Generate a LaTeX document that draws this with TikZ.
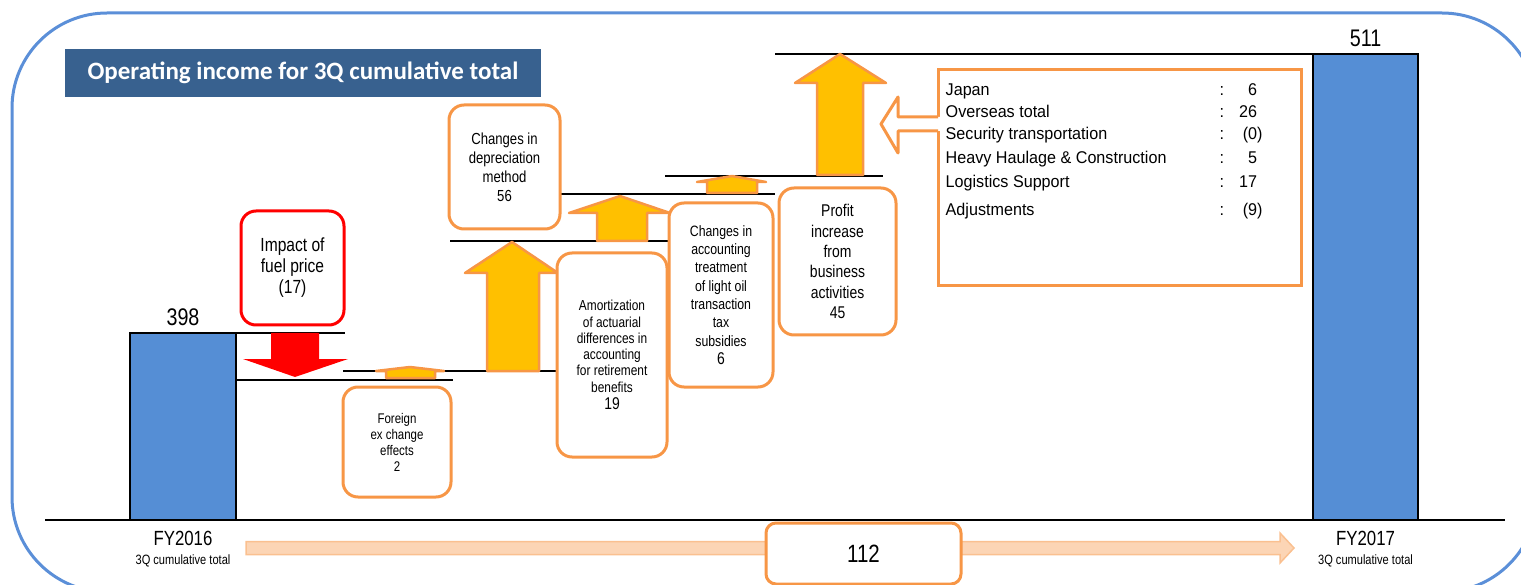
\documentclass[tikz,border=0pt]{standalone}
\usepackage{fontspec}
\setmainfont{Liberation Sans}[FakeStretch=0.82]
\newfontfamily\listfont{Liberation Sans}[FakeStretch=0.95]
\newfontfamily\titlefont{Carlito}
\usepackage{array}
\usetikzlibrary{calc, positioning}

\definecolor{barblue}{HTML}{558ED5}
\definecolor{titleblue}{HTML}{38618F}
\definecolor{frameblue}{HTML}{5B8FD8}
\definecolor{boxorange}{HTML}{F79646}
\definecolor{arrowgold}{HTML}{FFC000}
\definecolor{flowfill}{HTML}{FCD5B5}
\definecolor{flowline}{HTML}{FAC090}

\newcommand\fsz[2]{\fontsize{#1}{#2}\selectfont}

\begin{document}
\begin{tikzpicture}[x=1pt, y=-1pt,
every node/.style = {inner sep=0pt, align=center},
box/.style = {draw=boxorange, line width=3pt, rounded corners=15pt,
              fill=white},
redbox/.style = {box, draw=red},
bar/.style = {draw=black, line width=2.2pt, fill=barblue},
level/.style = {draw=black, line width=2.2pt},
uparrow/.style = {draw=boxorange, line width=2.5pt, fill=arrowgold,
                  line join=round},
downarrow/.style = {fill=red},
flow/.style = {fill=flowfill, draw=flowline, line width=1.5pt},
                    ]
%---
\useasboundingbox (0,0) rectangle (1521,585);
\begin{scope}
\clip (0,0) rectangle (1521,585);
\draw[frameblue, line width=3pt, rounded corners=95pt] (12,13) rectangle (1537,592);
\end{scope}

\node (title) [fill=titleblue, minimum width=476pt, minimum height=48pt,
               text=white, font=\titlefont\bfseries\fsz{25}{30}] at (303,73)
      {Operating income for 3Q cumulative total};

% bars
\node (fy16) [bar, minimum width=106pt, minimum height=187pt] at (183,426.5) {};
\node (fy17) [bar, minimum width=105pt, minimum height=466pt] at (1365.5,287) {};
\node (v16) [above=5.5pt of fy16, font=\fsz{24}{28}] {398};
\node (v17) [above=5.5pt of fy17, font=\fsz{24}{28}] {511};
\node (fy16_lbl) [below=9.5pt of fy16, font=\fsz{20.5}{24}] {FY2016};
\node (fy16_sub) [below=9.5pt of fy16_lbl, font=\fsz{13.5}{16}] {3Q cumulative total};
\node (fy17_lbl) [below=9.5pt of fy17, font=\fsz{20.5}{24}] {FY2017};
\node (fy17_sub) [below=9.5pt of fy17_lbl, font=\fsz{13.5}{16}] {3Q cumulative total};

% levels
\draw[level] (45,520) -- (1505,520);
\draw[level] (236,333) -- (345,333);
\draw[level] (236,380) -- (453,380);
\draw[level] (343,371) -- (557,371);
\draw[level] (450,241) -- (668,241);
\draw[level] (561,194) -- (775,194);
\draw[level] (665,176) -- (883,176);
\draw[level] (775,54) -- (1313,54);

% steps
\fill[downarrow] (271,333) -- (271,359) -- (243,359) -- (295,377) -- (348,359) -- (319,359) -- (319,333) -- cycle;
\filldraw[uparrow] (386,378) -- (386,371) -- (376,371) -- (410,367) -- (444,371) -- (435,371) -- (435,378) -- cycle;
\filldraw[uparrow] (487,371) -- (487,273) -- (465,273) -- (512,242) -- (558,273) -- (539,273) -- (539,371) -- cycle;
\filldraw[uparrow] (597,241) -- (597,213) -- (569,213) -- (620,196) -- (670,213) -- (647,213) -- (647,241) -- cycle;
\filldraw[uparrow] (707,193) -- (707,182) -- (697,182) -- (732,176) -- (766,182) -- (757,182) -- (757,193) -- cycle;
\filldraw[uparrow] (817,175) -- (817,83) -- (795,83) -- (840,54) -- (886,83) -- (863,83) -- (863,175) -- cycle;

\node (fuel) [redbox, minimum width=103pt, minimum height=114pt, font=\fsz{19}{21}]
      at (292.5,268) {Impact of\\fuel price\\(17)};
\node (fx) [box, minimum width=108pt, minimum height=110pt, font=\fsz{14}{16}]
      at (397,442) {Foreign\\ex change\\effects\\2};
\node (depr) [box, minimum width=111pt, minimum height=124pt, font=\fsz{16}{19}]
      at (504.5,167) {Changes in\\depreciation\\method\\56};
\node (amort) [box, minimum width=110pt, minimum height=204pt, font=\fsz{14.5}{16.3}]
      at (612,355) {Amortization\\of actuarial\\differences in\\accounting\\for retirement\\benefits\\[1pt]{\fsz{17}{19}19}};
\node (oil) [box, minimum width=104pt, minimum height=184pt, font=\fsz{15}{18.3}]
      at (721,295) {Changes in\\accounting\\treatment\\of light oil\\transaction\\tax\\subsidies\\{\fsz{17}{19}6}};
\node (profit) [box, minimum width=117pt, minimum height=147pt, font=\fsz{17}{20.3}]
      at (837.5,261.5) {Profit\\increase\\from\\business\\activities\\45};

% breakdown
\node (detail) [draw=boxorange, line width=3pt, fill=white,
                minimum width=363pt, minimum height=216pt] at (1119.5,178) {};
\fill[white] (881,124) -- (898,97) -- (898,117) -- (940,117) -- (940,131) -- (898,131) -- (898,153) -- cycle;
\draw[boxorange, line width=3pt, line join=round]
      (938,117) -- (898,117) -- (898,97) -- (881,124) -- (898,153) -- (898,131) -- (938,131);
\node (detail_txt) [below right=11pt and 9pt of detail.north west,
                    font=\listfont\fsz{17}{22}, align=left]
      {\begin{tabular}{@{}p{274pt}@{}l@{}>{\raggedleft\arraybackslash}p{33pt}@{}}
       Japan & : & 6\\
       Overseas total & : & 26\\
       Security transportation & : & (0\rlap{)}\\[2pt]
       Heavy Haulage \& Construction & : & 5\\[2pt]
       Logistics Support & : & 17\\[6pt]
       Adjustments & : & (9\rlap{)}
       \end{tabular}};

% total change
\coordinate (flow_s) at (246,548);
\coordinate (flow_e) at (1294,548);
\filldraw[flow] ($(flow_s)+(0,-6.5)$) -- ($(flow_e)+(-14,-6.5)$) -- ($(flow_e)+(-14,-15)$)
      -- (flow_e) -- ($(flow_e)+(-14,15)$) -- ($(flow_e)+(-14,6.5)$) -- ($(flow_s)+(0,6.5)$) -- cycle;
\node (total) [box, rounded corners=10pt, minimum width=195pt, minimum height=61pt,
               font=\fsz{25}{30}] at (863.5,553.5) {112};

\end{tikzpicture}
\end{document}
